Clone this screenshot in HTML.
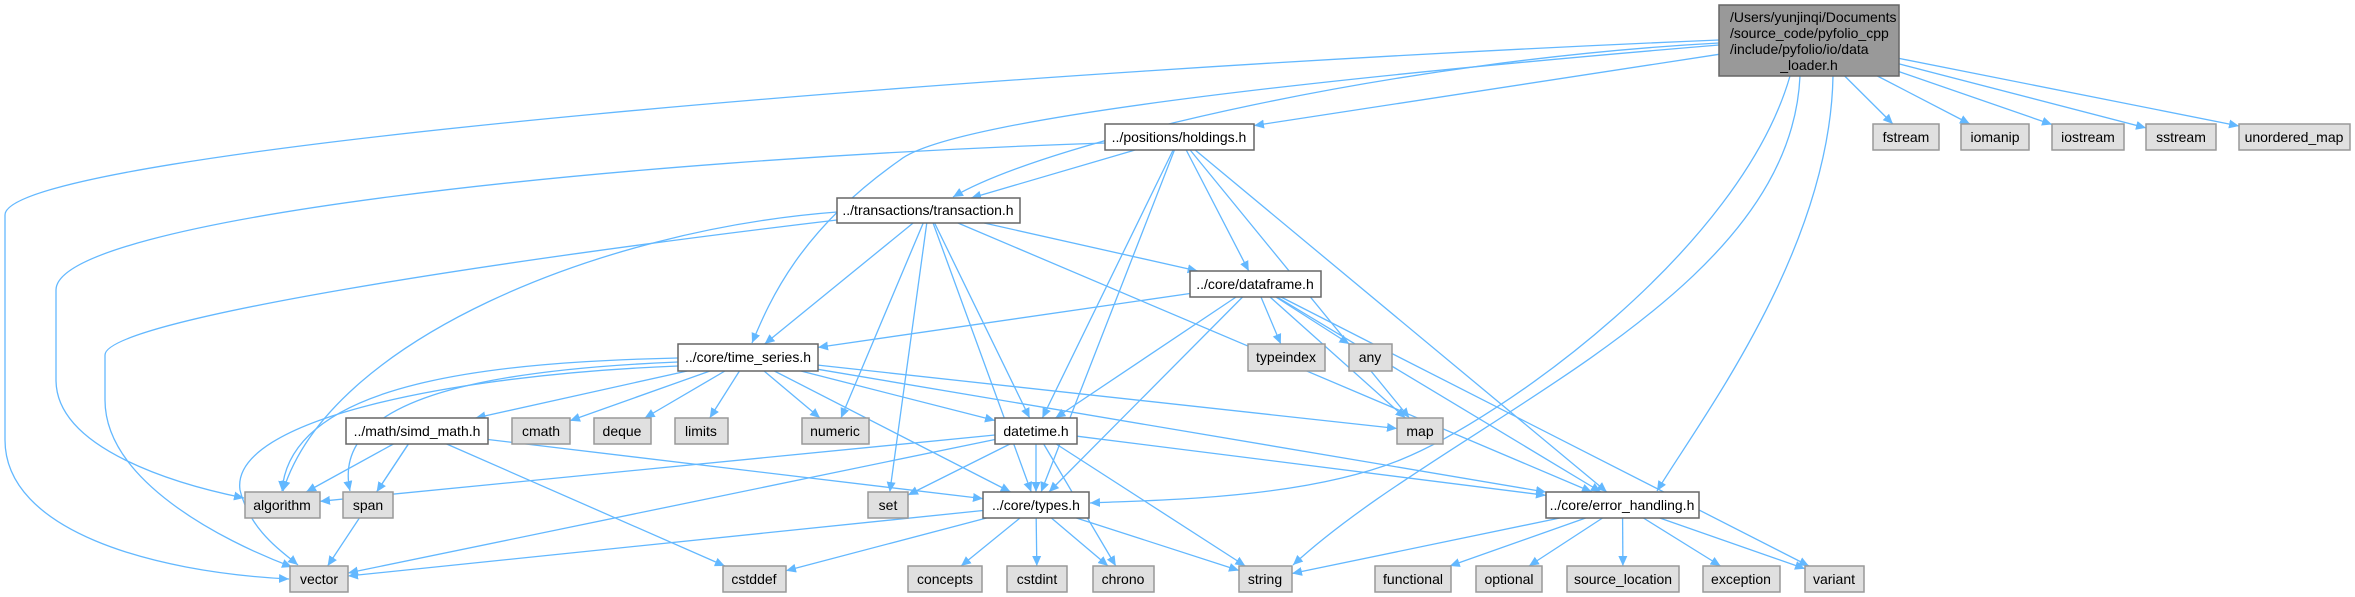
<!DOCTYPE html>
<html><head><meta charset="utf-8"><style>
html,body{margin:0;padding:0;background:#fff;}
svg{display:block;}
text{font-family:"Liberation Sans",Helvetica,sans-serif;font-size:14px;fill:#000;}
</style></head><body>
<svg id="g" width="2355" height="597" xmlns="http://www.w3.org/2000/svg">
<defs><marker id="a" viewBox="0 0 10 10" refX="10" refY="5" markerWidth="10" markerHeight="10" markerUnits="userSpaceOnUse" orient="auto"><path d="M0,0.5 L10,5 L0,9.5 z" fill="#63b8ff"/></marker></defs>
<g id="edges" fill="none" stroke="#63b8ff" stroke-width="1.3"></g>
<g id="nodes">
<rect x="1719" y="5" width="180" height="71" fill="#999" stroke="#666" stroke-width="1.5"/>
<text x="1730" y="22">/Users/yunjinqi/Documents</text>
<text x="1730" y="38">/source_code/pyfolio_cpp</text>
<text x="1730" y="54">/include/pyfolio/io/data</text>
<text x="1809" y="70" text-anchor="middle">_loader.h</text>
</g>
</svg>
<script>
var N={
hold:[1105,124,1254,150,"../positions/holdings.h",0],
fstream:[1873,124,1939,150,"fstream",1],
iomanip:[1961,124,2029,150,"iomanip",1],
iostream:[2052,124,2124,150,"iostream",1],
sstream:[2146,124,2216,150,"sstream",1],
umap:[2239,124,2350,150,"unordered_map",1],
trans:[837,198,1020,223,"../transactions/transaction.h",0],
df:[1190,271,1321,297,"../core/dataframe.h",0],
ts:[678,344,818,371,"../core/time_series.h",0],
typeindex:[1248,344,1325,371,"typeindex",1],
any:[1349,344,1392,371,"any",1],
simd:[346,418,488,444,"../math/simd_math.h",0],
cmath:[512,418,570,444,"cmath",1],
deque:[594,418,651,444,"deque",1],
limits:[675,418,728,444,"limits",1],
numeric:[802,418,869,444,"numeric",1],
dt:[995,418,1077,444,"datetime.h",0],
map:[1397,418,1443,444,"map",1],
algorithm:[245,492,320,518,"algorithm",1],
span:[343,492,393,518,"span",1],
set:[868,492,908,518,"set",1],
types:[983,492,1089,518,"../core/types.h",0],
err:[1546,492,1699,518,"../core/error_handling.h",0],
vector:[290,566,348,592,"vector",1],
cstddef:[723,566,786,592,"cstddef",1],
concepts:[908,566,982,592,"concepts",1],
cstdint:[1007,566,1067,592,"cstdint",1],
chrono:[1093,566,1154,592,"chrono",1],
string:[1239,566,1292,592,"string",1],
functional:[1375,566,1451,592,"functional",1],
optional:[1476,566,1542,592,"optional",1],
sloc:[1567,566,1679,592,"source_location",1],
exception:[1703,566,1780,592,"exception",1],
variant:[1805,566,1864,592,"variant",1]
};
N.main=[1719,5,1899,76,"",0];
var E=[
["main","hold"],["main","fstream"],["main","iomanip"],["main","iostream"],["main","sstream"],["main","umap"],
["trans","ts"],["trans","numeric"],["trans","set"],["trans","types"],["trans","dt"],["trans","df"],["trans","err"],
["hold","trans"],["hold","df"],["hold","dt"],["hold","types"],["hold","map"],["hold","err"],
["df","ts"],["df","typeindex"],["df","any"],["df","map"],["df","dt"],["df","types"],["df","err"],["df","variant"],
["ts","simd"],["ts","cmath"],["ts","deque"],["ts","limits"],["ts","numeric"],["ts","dt"],["ts","types"],["ts","err"],["ts","map"],
["simd","algorithm"],["simd","span"],["simd","vector"],["simd","cstddef"],["simd","types"],
["dt","algorithm"],["dt","set"],["dt","types"],["dt","vector"],["dt","string"],["dt","chrono"],["dt","err"],
["types","vector"],["types","cstddef"],["types","concepts"],["types","cstdint"],["types","chrono"],["types","string"],
["err","string"],["err","functional"],["err","optional"],["err","sloc"],["err","exception"],["err","variant"]
];
var NS="http://www.w3.org/2000/svg";
function bp(n,tx,ty){var cx=(n[0]+n[2])/2,cy=(n[1]+n[3])/2,dx=tx-cx,dy=ty-cy,hw=(n[2]-n[0])/2,hh=(n[3]-n[1])/2;
var s=Math.min(dx?hw/Math.abs(dx):1e9,dy?hh/Math.abs(dy):1e9);return [cx+dx*s,cy+dy*s];}
var eg=document.getElementById("edges");
function P(d){var p=document.createElementNS(NS,"path");p.setAttribute("d",d);p.setAttribute("marker-end","url(#a)");eg.appendChild(p);}
E.forEach(function(e){var s=N[e[0]],t=N[e[1]];var sc=[(s[0]+s[2])/2,(s[1]+s[3])/2],tc=[(t[0]+t[2])/2,(t[1]+t[3])/2];
var a=bp(s,tc[0],tc[1]),b=bp(t,sc[0],sc[1]);P("M"+a[0]+","+a[1]+" L"+b[0]+","+b[1]);});
P("M1719,40 C1000,70 5,150 5,215 L5,440 C5,530 150,572 289,579");
P("M1105,143 C600,160 56,220 56,290 L56,380 C56,450 180,485 244,498");
P("M837,220 C500,260 105,320 105,355 L105,400 C105,480 220,540 292,567");
P("M837,212 C600,230 330,340 283,491");
P("M1719,45 C1300,80 950,120 900,160 C800,230 770,300 752,343");
P("M1719,43 C1400,60 1050,140 953,197");
P("M678,358 C500,362 290,380 282,491");
P("M678,362 C480,370 330,400 350,491");
P("M678,366 C450,375 230,420 240,490 C250,530 280,550 298,565");
P("M1790,76 C1740,250 1500,420 1400,460 C1300,500 1150,500 1090,503");
P("M1800,76 C1790,300 1450,420 1293,565");
P("M1833,76 C1830,250 1700,420 1657,491");
var ng=document.getElementById("nodes");
for(var k in N){if(k=="main")continue;var n=N[k];
var r=document.createElementNS(NS,"rect");r.setAttribute("x",n[0]);r.setAttribute("y",n[1]);r.setAttribute("width",n[2]-n[0]);r.setAttribute("height",n[3]-n[1]);
r.setAttribute("fill",n[5]?"#e0e0e0":"#fff");r.setAttribute("stroke",n[5]?"#999":"#666");r.setAttribute("stroke-width","1.5");ng.appendChild(r);}
</script>
<svg width="2355" height="597" style="position:absolute;left:0;top:0" xmlns="http://www.w3.org/2000/svg">
<g text-anchor="middle">
<text x="1179" y="142">../positions/holdings.h</text>
<text x="1906" y="142">fstream</text>
<text x="1995" y="142">iomanip</text>
<text x="2088" y="142">iostream</text>
<text x="2181" y="142">sstream</text>
<text x="2294" y="142">unordered_map</text>
<text x="928" y="215">../transactions/transaction.h</text>
<text x="1255" y="289">../core/dataframe.h</text>
<text x="748" y="362">../core/time_series.h</text>
<text x="1286" y="362">typeindex</text>
<text x="1370" y="362">any</text>
<text x="417" y="436">../math/simd_math.h</text>
<text x="541" y="436">cmath</text>
<text x="622" y="436">deque</text>
<text x="701" y="436">limits</text>
<text x="835" y="436">numeric</text>
<text x="1036" y="436">datetime.h</text>
<text x="1420" y="436">map</text>
<text x="282" y="510">algorithm</text>
<text x="368" y="510">span</text>
<text x="888" y="510">set</text>
<text x="1036" y="510">../core/types.h</text>
<text x="1622" y="510">../core/error_handling.h</text>
<text x="319" y="584">vector</text>
<text x="754" y="584">cstddef</text>
<text x="945" y="584">concepts</text>
<text x="1037" y="584">cstdint</text>
<text x="1123" y="584">chrono</text>
<text x="1265" y="584">string</text>
<text x="1413" y="584">functional</text>
<text x="1509" y="584">optional</text>
<text x="1623" y="584">source_location</text>
<text x="1741" y="584">exception</text>
<text x="1834" y="584">variant</text>
</g>
</svg>
</body></html>
